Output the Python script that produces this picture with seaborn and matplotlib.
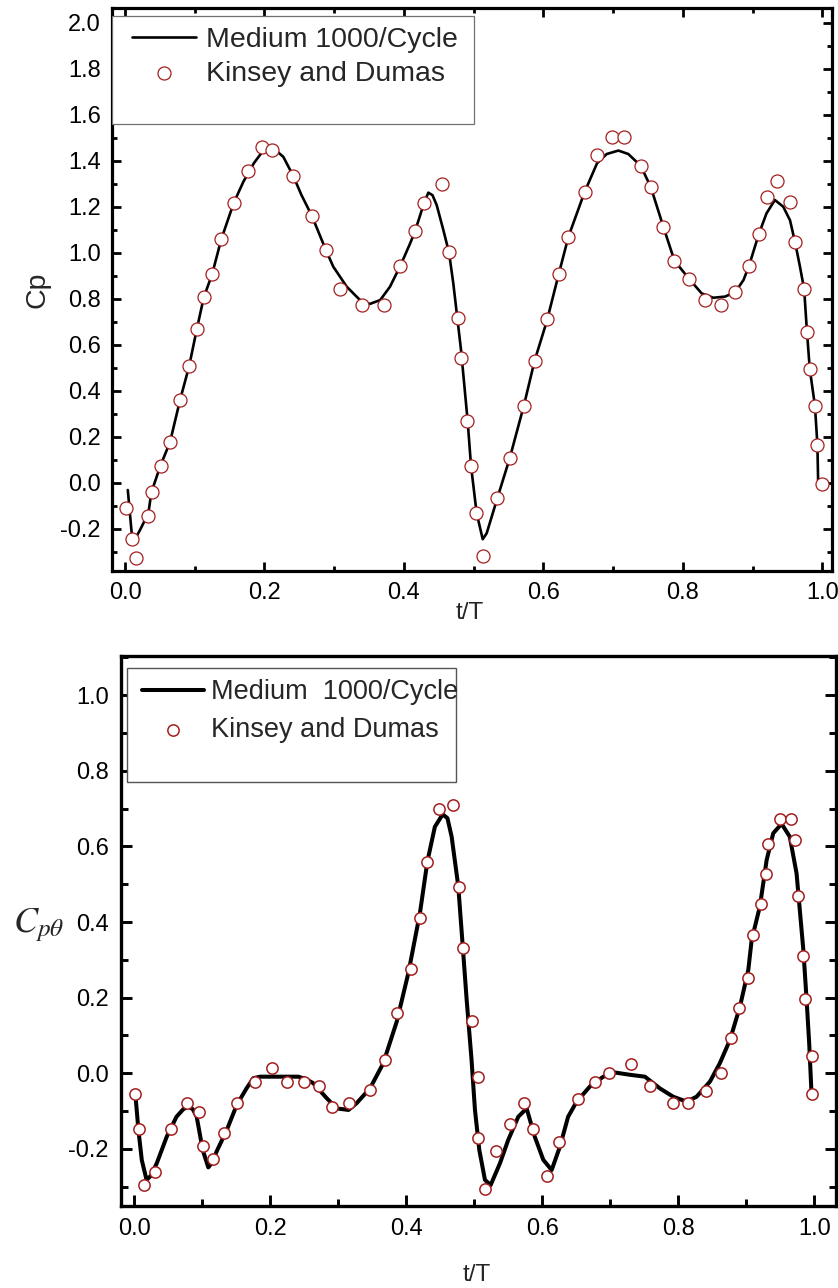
import matplotlib
matplotlib.use('Agg')
import matplotlib.pyplot as plt
import seaborn as sns
from matplotlib.patches import Rectangle
from matplotlib.ticker import MultipleLocator, FormatStrFormatter

# ---------------- data ----------------
top_exp_t = [0.002, 0.010, 0.016, 0.033, 0.038, 0.051, 0.065, 0.079, 0.092, 0.103,
             0.113, 0.125, 0.138, 0.156, 0.177, 0.197, 0.211, 0.241, 0.268, 0.288,
             0.309, 0.340, 0.371, 0.395, 0.416, 0.429, 0.454, 0.465, 0.477, 0.482,
             0.491, 0.496, 0.504, 0.514, 0.534, 0.552, 0.572, 0.588, 0.605, 0.622,
             0.636, 0.659, 0.677, 0.698, 0.716, 0.740, 0.754, 0.772, 0.788, 0.809,
             0.832, 0.855, 0.875, 0.895, 0.909, 0.920, 0.935, 0.954, 0.961, 0.974,
             0.978, 0.982, 0.990, 0.993, 1.000]
top_exp_cp = [-0.111, -0.246, -0.329, -0.145, -0.042, 0.073, 0.176, 0.360, 0.507, 0.668,
              0.806, 0.907, 1.058, 1.217, 1.354, 1.461, 1.447, 1.333, 1.160, 1.012,
              0.841, 0.773, 0.773, 0.944, 1.094, 1.217, 1.300, 1.002, 0.715, 0.541,
              0.268, 0.074, -0.133, -0.317, -0.067, 0.106, 0.335, 0.531, 0.710, 0.907,
              1.070, 1.263, 1.425, 1.504, 1.504, 1.378, 1.286, 1.113, 0.965, 0.886,
              0.794, 0.774, 0.828, 0.944, 1.081, 1.242, 1.310, 1.219, 1.045, 0.841,
              0.657, 0.496, 0.333, 0.164, -0.007]

top_line_t = [0.004, 0.0096, 0.0143, 0.0215, 0.0335, 0.0378, 0.0507, 0.0645, 0.079, 0.092,
              0.103, 0.113, 0.125, 0.138, 0.156, 0.170, 0.185, 0.197, 0.2127, 0.227,
              0.2414, 0.253, 0.268, 0.288, 0.2987, 0.318, 0.337, 0.351, 0.366, 0.380,
              0.395, 0.409, 0.416, 0.429, 0.435, 0.441, 0.447, 0.4565, 0.4647, 0.4708,
              0.4766, 0.4819, 0.4914, 0.4962, 0.5043, 0.513, 0.5187, 0.534, 0.5517, 0.572,
              0.5875, 0.605, 0.622, 0.636, 0.659, 0.677, 0.6908, 0.7076, 0.7218, 0.7395,
              0.754, 0.772, 0.788, 0.809, 0.827, 0.8437, 0.8605, 0.875, 0.887, 0.895,
              0.909, 0.920, 0.932, 0.944, 0.9537, 0.961, 0.968, 0.974, 0.978, 0.982,
              0.9895, 0.993, 0.994]
top_line_cp = [-0.032, -0.22, -0.246, -0.206, -0.133, -0.042, 0.073, 0.176, 0.36, 0.507,
               0.668, 0.806, 0.907, 1.058, 1.217, 1.31, 1.39, 1.439, 1.454, 1.417,
               1.333, 1.251, 1.16, 1.012, 0.939, 0.852, 0.794, 0.777, 0.794, 0.852,
               0.944, 1.041, 1.094, 1.217, 1.261, 1.25, 1.207, 1.099, 1.0, 0.867,
               0.715, 0.577, 0.268, 0.074, -0.133, -0.246, -0.22, -0.067, 0.106, 0.335,
               0.531, 0.703, 0.907, 1.07, 1.263, 1.389, 1.429, 1.444, 1.429, 1.378,
               1.286, 1.113, 0.965, 0.886, 0.823, 0.804, 0.809, 0.828, 0.881, 0.944,
               1.081, 1.171, 1.229, 1.2, 1.141, 1.045, 0.939, 0.841, 0.657, 0.496,
               0.333, 0.164, 0.012]

bot_exp_t = [0.001, 0.007, 0.014, 0.031, 0.054, 0.077, 0.095, 0.101, 0.115, 0.132,
             0.151, 0.178, 0.203, 0.225, 0.250, 0.272, 0.291, 0.315, 0.347, 0.368,
             0.387, 0.407, 0.420, 0.431, 0.448, 0.468, 0.477, 0.484, 0.497, 0.505,
             0.505, 0.516, 0.532, 0.552, 0.573, 0.587, 0.607, 0.624, 0.652, 0.677,
             0.698, 0.730, 0.758, 0.793, 0.815, 0.841, 0.863, 0.878, 0.889, 0.903,
             0.910, 0.921, 0.929, 0.932, 0.950, 0.966, 0.972, 0.976, 0.983, 0.987,
             0.996, 0.997]
bot_exp_c = [-0.056, -0.147, -0.296, -0.260, -0.147, -0.079, -0.102, -0.192, -0.228, -0.157,
             -0.079, -0.024, 0.013, -0.024, -0.024, -0.034, -0.090, -0.079, -0.044, 0.034,
             0.160, 0.275, 0.412, 0.560, 0.698, 0.710, 0.492, 0.331, 0.137, -0.009,
             -0.170, -0.306, -0.205, -0.135, -0.079, -0.147, -0.273, -0.181, -0.069, -0.022,
             0.002, 0.024, -0.034, -0.079, -0.079, -0.046, 0.002, 0.094, 0.172, 0.253,
             0.366, 0.448, 0.526, 0.606, 0.673, 0.673, 0.617, 0.469, 0.311, 0.196,
             0.046, -0.056]

bot_line_t = [0.002, 0.006, 0.011, 0.018, 0.025, 0.033, 0.0476, 0.062, 0.072, 0.0794,
              0.086, 0.0917, 0.1006, 0.1088, 0.115, 0.121, 0.136, 0.1506, 0.165, 0.175,
              0.185, 0.200, 0.220, 0.241, 0.252, 0.263, 0.283, 0.2976, 0.315, 0.327,
              0.3466, 0.366, 0.386, 0.403, 0.420, 0.431, 0.442, 0.4535, 0.4605, 0.4667,
              0.4765, 0.4838, 0.4888, 0.496, 0.501, 0.5074, 0.5157, 0.524, 0.5378, 0.55,
              0.5647, 0.577, 0.589, 0.6015, 0.6138, 0.626, 0.638, 0.6506, 0.670, 0.6897,
              0.707, 0.729, 0.751, 0.773, 0.7926, 0.8123, 0.827, 0.8466, 0.861, 0.876,
              0.8907, 0.903, 0.908, 0.920, 0.930, 0.9397, 0.952, 0.964, 0.974, 0.984,
              0.9888, 0.9926, 0.996]
bot_line_c = [-0.066, -0.15, -0.23, -0.282, -0.27, -0.238, -0.168, -0.115, -0.095, -0.088,
              -0.095, -0.115, -0.203, -0.249, -0.235, -0.207, -0.150, -0.084, -0.040, -0.013,
              -0.009, -0.009, -0.009, -0.009, -0.015, -0.026, -0.066, -0.093, -0.097, -0.079,
              -0.040, 0.026, 0.137, 0.265, 0.423, 0.560, 0.652, 0.685, 0.675, 0.626,
              0.494, 0.317, 0.194, 0.035, -0.097, -0.203, -0.282, -0.296, -0.238, -0.176,
              -0.115, -0.093, -0.168, -0.229, -0.256, -0.194, -0.115, -0.075, -0.035, -0.009,
              0.002, -0.004, -0.009, -0.040, -0.062, -0.075, -0.062, -0.022, 0.026, 0.088,
              0.176, 0.273, 0.353, 0.441, 0.564, 0.635, 0.660, 0.626, 0.529, 0.326,
              0.194, 0.079, -0.053]

label_sim_top = "Medium 1000/Cycle"
label_sim_bot = "Medium  1000/Cycle"
label_exp = "Kinsey and Dumas"

# ---------------- style ----------------
sns.set_theme(style='ticks')
plt.rcParams['font.family'] = ['Liberation Sans', 'DejaVu Sans']
plt.rcParams['axes.unicode_minus'] = False
plt.rcParams['mathtext.fontset'] = 'stix'

RED = '#a31f1f'

fig = plt.figure(figsize=(8.38, 12.88), dpi=100)
ax1 = fig.add_axes([0.1337, 0.5567, 0.8592, 0.4371])
ax2 = fig.add_axes([0.1444, 0.0637, 0.8532, 0.4270])

# ---------------- top panel ----------------
sns.lineplot(x=top_line_t, y=top_line_cp, ax=ax1, color='black', lw=1.9,
             sort=False, estimator=None, label=label_sim_top, zorder=2)
sns.scatterplot(x=top_exp_t, y=top_exp_cp, ax=ax1, marker='o', s=88,
                facecolor='white', edgecolor=RED, linewidth=0.9,
                label=label_exp, zorder=3)

ax1.set_xlim(-0.0186, 1.014)
ax1.set_ylim(-0.384, 2.064)
ax1.xaxis.set_major_locator(MultipleLocator(0.2))
ax1.xaxis.set_minor_locator(MultipleLocator(0.1))
ax1.yaxis.set_major_locator(MultipleLocator(0.2))
ax1.yaxis.set_minor_locator(MultipleLocator(0.1))
ax1.xaxis.set_major_formatter(FormatStrFormatter('%.1f'))
ax1.yaxis.set_major_formatter(FormatStrFormatter('%.1f'))
ax1.tick_params(which='both', direction='in', top=True, right=True, width=2,
                labelsize=17, pad=8, color='black', labelcolor='black')
ax1.tick_params(which='major', length=6.5)
ax1.tick_params(which='minor', length=3.5)
for sp in ax1.spines.values():
    sp.set_linewidth(2.3)
    sp.set_color('black')

ax1.set_xlabel('t/T', fontsize=17.5, va='center')
ax1.xaxis.set_label_coords(0.497, -0.0745)
ax1.set_ylabel('Cp', fontsize=20.5, va='center')
ax1.yaxis.set_label_coords(-0.103, 0.5)

ax1.add_patch(Rectangle((0.0, 0.794), 0.503, 0.192, transform=ax1.transAxes,
                        facecolor='white', edgecolor='#707070', lw=0.9, zorder=4))
h, l = ax1.get_legend_handles_labels()
leg1 = ax1.legend(h, l, loc='upper left', bbox_to_anchor=(0.0278, 0.967),
                  frameon=False, fontsize=20.5, borderpad=0, borderaxespad=0,
                  handlelength=2.25, handletextpad=0.36, labelspacing=0.28)
leg1.set_zorder(5)

# ---------------- bottom panel ----------------
sns.lineplot(x=bot_line_t, y=bot_line_c, ax=ax2, color='black', lw=2.9,
             sort=False, estimator=None, label=label_sim_bot, zorder=2)
sns.scatterplot(x=bot_exp_t, y=bot_exp_c, ax=ax2, marker='o', s=66,
                facecolor='white', edgecolor=RED, linewidth=1.1,
                label=label_exp, zorder=3)

ax2.set_xlim(-0.0196, 1.032)
ax2.set_ylim(-0.351, 1.104)
ax2.xaxis.set_major_locator(MultipleLocator(0.2))
ax2.xaxis.set_minor_locator(MultipleLocator(0.1))
ax2.yaxis.set_major_locator(MultipleLocator(0.2))
ax2.yaxis.set_minor_locator(MultipleLocator(0.1))
ax2.xaxis.set_major_formatter(FormatStrFormatter('%.1f'))
ax2.yaxis.set_major_formatter(FormatStrFormatter('%.1f'))
ax2.tick_params(which='both', direction='in', top=False, right=True, width=2.1,
                labelsize=17, pad=9, color='black', labelcolor='black')
ax2.tick_params(which='major', length=8)
ax2.tick_params(which='minor', length=5)
for sp in ax2.spines.values():
    sp.set_linewidth(2.4)
    sp.set_color('black')

ax2.set_xlabel('t/T', fontsize=17.5, va='center')
ax2.xaxis.set_label_coords(0.498, -0.1255)
ax2.set_ylabel(r'$C_{p\theta}$', fontsize=26, rotation=0, va='center', ha='center')
ax2.yaxis.set_label_coords(-0.1147, 0.511)

ax2.add_patch(Rectangle((0.0084, 0.770), 0.4596, 0.2087, transform=ax2.transAxes,
                        facecolor='white', edgecolor='#555555', lw=1.0, zorder=4))
h, l = ax2.get_legend_handles_labels()
leg2 = ax2.legend(h, l, loc='upper left', bbox_to_anchor=(0.0294, 0.958),
                  frameon=False, fontsize=19.5, borderpad=0, borderaxespad=0,
                  handlelength=2.3, handletextpad=0.25, labelspacing=0.43)
leg2.set_zorder(5)

fig.savefig('out.png', dpi=100)
